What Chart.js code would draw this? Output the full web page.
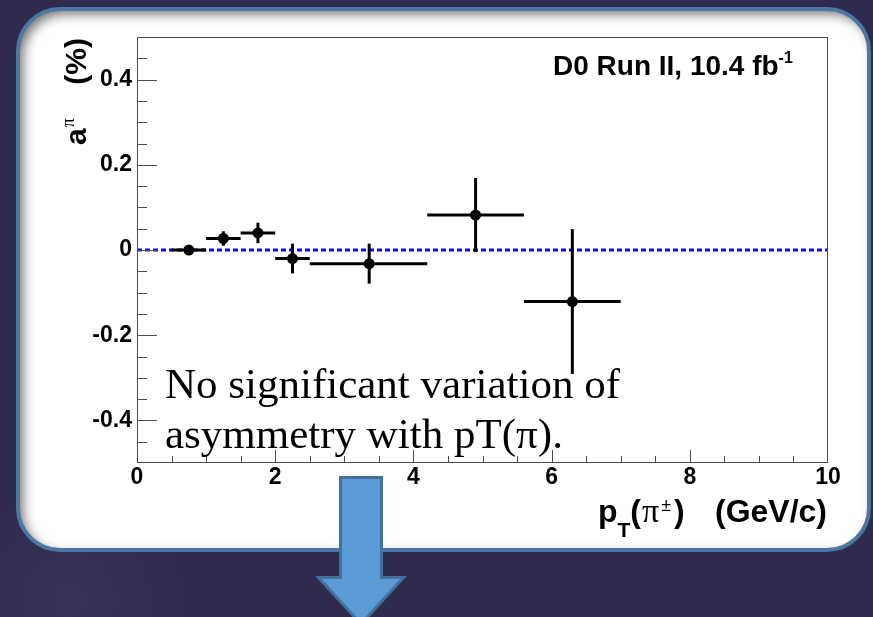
<!DOCTYPE html>
<html>
<head>
<meta charset="utf-8">
<script src="https://cdn.jsdelivr.net/npm/chart.js@4.4.0/dist/chart.umd.min.js"></script>
<style>
  html, body { margin: 0; padding: 0; background: #2e2b4e; }
  canvas { display: block; }
</style>
</head>
<body>
<canvas id="asymChart" width="873" height="617"></canvas>
<script>
// pion asymmetry a^pi (%) vs pT bins
const binCenters = [0.75, 1.25, 1.75, 2.25, 3.36, 4.90, 6.30];
const binLow = [0.5, 1.0, 1.5, 2.0, 2.5, 4.2, 5.6];
const binHigh = [1.0, 1.5, 2.0, 2.5, 4.2, 5.6, 7.0];
const asym = [0.000, 0.027, 0.040, -0.020, -0.032, 0.082, -0.121];
const asymErr = [0.008, 0.017, 0.024, 0.035, 0.047, 0.087, 0.170];

const xTicks = [0, 2, 4, 6, 8, 10];
const xTickLabels = ["0", "2", "4", "6", "8", "10"];
const yTicks = [-0.4, -0.2, 0, 0.2, 0.4];
const yTickLabels = ["-0.4", "-0.2", "0", "0.2", "0.4"];
const zeroLine = [0, 10];

const SANS = '"Liberation Sans", Arial, sans-serif';
const SERIF = '"Liberation Serif", "Times New Roman", serif';

// build datasets: dashed zero line, error bars, markers
const datasets = [];
datasets.push({
  data: zeroLine.map((x) => ({ x: x, y: 0 })),
  showLine: true,
  borderColor: "#0808f5",
  borderWidth: 3,
  borderDash: [5, 3],
  pointRadius: 0,
  order: 3,
});
binCenters.forEach((x, i) => {
  datasets.push({
    data: [{ x: binLow[i], y: asym[i] }, { x: binHigh[i], y: asym[i] }],
    showLine: true,
    borderColor: "#000",
    borderWidth: 3,
    pointRadius: 0,
    order: 2,
  });
  datasets.push({
    data: [{ x: x, y: asym[i] - asymErr[i] }, { x: x, y: asym[i] + asymErr[i] }],
    showLine: true,
    borderColor: "#000",
    borderWidth: 3,
    pointRadius: 0,
    order: 2,
  });
});
datasets.push({
  data: binCenters.map((x, i) => ({ x: x, y: asym[i] })),
  pointRadius: 5.5,
  pointBackgroundColor: "#000",
  pointBorderWidth: 0,
  order: 1,
});

function drawArrow(ctx) {
  ctx.save();
  ctx.beginPath();
  ctx.moveTo(340.5, 477.5);
  ctx.lineTo(381.5, 477.5);
  ctx.lineTo(381.5, 577.5);
  ctx.lineTo(403.5, 577.5);
  ctx.lineTo(361, 624);
  ctx.lineTo(318.5, 577.5);
  ctx.lineTo(340.5, 577.5);
  ctx.closePath();
  ctx.fillStyle = "#5b9bd5";
  ctx.fill();
  ctx.lineWidth = 3;
  ctx.strokeStyle = "#41719c";
  ctx.stroke();
  ctx.restore();
}

const slidePlugin = {
  id: "slide",
  beforeDraw(chart) {
    const ctx = chart.ctx;
    ctx.save();
    ctx.fillStyle = "#2e2b4e";
    ctx.fillRect(0, 0, 873, 617);
    const glow = ctx.createRadialGradient(70, 600, 10, 70, 600, 130);
    glow.addColorStop(0, "rgba(80,72,115,0.25)");
    glow.addColorStop(1, "rgba(80,72,115,0)");
    ctx.fillStyle = glow;
    ctx.fillRect(0, 450, 300, 167);

    // white panel with inner shadow
    const px = 18, py = 9, pw = 851, ph = 541, pr = 42;
    ctx.beginPath();
    ctx.roundRect(px, py, pw, ph, pr);
    ctx.fillStyle = "#fff";
    ctx.fill();
    ctx.save();
    ctx.beginPath();
    ctx.roundRect(px, py, pw, ph, pr);
    ctx.clip();
    ctx.beginPath();
    ctx.rect(-500, -500, 2000, 2000);
    ctx.roundRect(px, py, pw, ph, pr);
    ctx.shadowColor = "rgba(0,0,0,0.55)";
    ctx.shadowBlur = 12;
    ctx.shadowOffsetX = 5;
    ctx.shadowOffsetY = 5;
    ctx.fillStyle = "#000";
    ctx.fill("evenodd");
    ctx.restore();
    ctx.beginPath();
    ctx.roundRect(px, py, pw, ph, pr);
    ctx.lineWidth = 4;
    ctx.strokeStyle = "#4a78a3";
    ctx.stroke();
    ctx.restore();
  },
  afterDraw(chart) {
    const ctx = chart.ctx;
    const a = chart.chartArea;
    const xs = chart.scales.x, ys = chart.scales.y;
    ctx.save();

    // frame
    ctx.strokeStyle = "#4d4d4d";
    ctx.lineWidth = 1;
    ctx.strokeRect(a.left + 0.5, a.top + 0.5, a.right - a.left - 1, a.bottom - a.top - 1);

    // inward ticks, ROOT style
    ctx.beginPath();
    for (let k = -9; k <= 9; k++) {
      const v = k * 0.05;
      const y = Math.round(ys.getPixelForValue(v)) + 0.5;
      const len = k % 4 === 0 ? 20 : 10;
      ctx.moveTo(a.left, y);
      ctx.lineTo(a.left + len, y);
    }
    for (let k = 1; k < 20; k++) {
      const v = k * 0.5;
      const x = Math.round(xs.getPixelForValue(v)) + 0.5;
      const len = k % 4 === 0 ? 13 : 7;
      ctx.moveTo(x, a.bottom);
      ctx.lineTo(x, a.bottom - len);
    }
    ctx.stroke();

    ctx.fillStyle = "#000";
    ctx.textBaseline = "alphabetic";

    // experiment label
    ctx.textAlign = "left";
    ctx.font = "bold 28px " + SANS;
    ctx.fillText("D0 Run II, 10.4 fb", 553, 75);
    let lx = 553 + ctx.measureText("D0 Run II, 10.4 fb").width;
    ctx.font = "bold 16px " + SANS;
    ctx.fillText("-1", lx, 63);

    // y title (rotated)
    ctx.save();
    ctx.translate(86, 145);
    ctx.rotate(-Math.PI / 2);
    ctx.font = "bold 30px " + SANS;
    ctx.fillText("a", 0, 0);
    let tx = ctx.measureText("a").width;
    ctx.font = "18px " + SERIF;
    ctx.fillText("\u03c0", tx + 1, -12);
    ctx.font = "bold 30px " + SANS;
    ctx.textAlign = "right";
    ctx.fillText("(%)", 107, 0);
    ctx.restore();

    // x title
    let x = 598;
    const base = 522;
    ctx.font = "bold 32px " + SANS;
    ctx.fillText("p", x, base);
    x += ctx.measureText("p").width;
    ctx.font = "bold 21px " + SANS;
    ctx.fillText("T", x, base + 15);
    x += ctx.measureText("T").width;
    ctx.font = "bold 32px " + SANS;
    ctx.fillText("(", x, base);
    x += ctx.measureText("(").width + 1;
    ctx.font = "34px " + SERIF;
    ctx.fillText("\u03c0", x, base);
    x += ctx.measureText("\u03c0").width + 2;
    ctx.font = "18px " + SANS;
    ctx.fillText("\u00b1", x, base - 11);
    x += ctx.measureText("\u00b1").width + 3;
    ctx.font = "bold 32px " + SANS;
    ctx.fillText(")", x, base);
    ctx.textAlign = "right";
    ctx.fillText("(GeV/c)", 827, base);

    // slide comment
    ctx.textAlign = "left";
    ctx.font = "43px " + SERIF;
    ctx.fillText("No significant variation of", 165, 398);
    ctx.fillText("asymmetry with pT(\u03c0).", 165, 448);

    ctx.restore();
    drawArrow(ctx);
  },
};

const tickFont = { family: SANS, size: 23, weight: "bold" };

new Chart(document.getElementById("asymChart"), {
  type: "scatter",
  data: { datasets: datasets },
  options: {
    responsive: false,
    animation: false,
    devicePixelRatio: 1,
    events: [],
    layout: { padding: { left: 0, top: 37, right: 45, bottom: 0 } },
    plugins: { legend: { display: false }, tooltip: { enabled: false } },
    scales: {
      x: {
        type: "linear",
        min: 0,
        max: 10,
        afterBuildTicks: (s) => { s.ticks = xTicks.map((v) => ({ value: v })); },
        afterFit: (s) => { s.height = 154; },
        ticks: {
          font: tickFont,
          color: "#000",
          padding: 1,
          maxRotation: 0,
          autoSkip: false,
          callback: (v, i) => xTickLabels[i],
        },
        grid: { display: false, drawTicks: false },
        border: { display: false },
      },
      y: {
        type: "linear",
        min: -0.5,
        max: 0.5,
        afterBuildTicks: (s) => { s.ticks = yTicks.map((v) => ({ value: v })); },
        afterFit: (s) => { s.width = 137; },
        ticks: {
          font: tickFont,
          color: "#000",
          padding: 5,
          autoSkip: false,
          callback: (v, i) => yTickLabels[i],
        },
        grid: { display: false, drawTicks: false },
        border: { display: false },
      },
    },
  },
  plugins: [slidePlugin],
});
</script>
</body>
</html>
